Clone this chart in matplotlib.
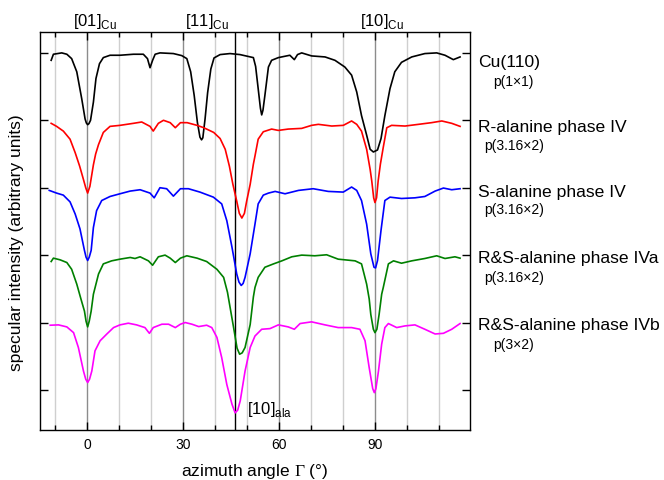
import matplotlib
matplotlib.use("Agg")
import matplotlib.pyplot as plt
from matplotlib.ticker import MultipleLocator, FixedLocator
import matplotlib.transforms as mtransforms

plt.rcParams['font.family'] = ['Liberation Sans', 'DejaVu Sans']
plt.rcParams['mathtext.fontset'] = 'custom'
plt.rcParams['mathtext.rm'] = 'Liberation Sans'
plt.rcParams['mathtext.sf'] = 'Liberation Serif'

# ---- azimuthal scans (angle in degrees, intensity relative to each trace's baseline) ----
cu_angle = [-11.3, -10.6, -8.0, -6.4, -4.9, -3.3, -1.75, -0.7, -0.3, 0.1, 0.5, 1.0, 1.9, 2.7,
            3.8, 5.0, 7.1, 10.2, 14.4, 17.5, 18.8, 19.6, 20.4, 21.2, 22.7, 26.9, 29.5, 31.1,
            32.3, 33.4, 34.4, 35.2, 35.7, 36.1, 36.8, 37.6, 38.6, 39.6, 41.5, 44.6, 47.7, 51.9,
            52.6, 53.4, 54.1, 54.5, 54.9, 55.5, 56.6, 57.6, 59.7, 63.3, 64.7, 65.7, 67.0, 70.1,
            74.3, 77.4, 80.5, 82.6, 84.2, 85.7, 87.3, 88.4, 89.4, 90.7, 91.8, 93.0, 94.6, 96.1,
            98.2, 101.4, 105.5, 109.2, 111.8, 114.4, 116.5]
cu_int = [-0.11, -0.02, 0.0, -0.02, -0.085, -0.28, -0.68, -0.98, -1.04, -1.065, -1.05, -1.0,
          -0.73, -0.38, -0.16, -0.07, -0.035, -0.035, -0.02, -0.02, -0.085, -0.22, -0.11, -0.02,
          0.0, -0.01, -0.04, -0.085, -0.28, -0.63, -1.03, -1.25, -1.29, -1.26, -0.98, -0.59,
          -0.24, -0.075, -0.025, -0.01, -0.025, -0.07, -0.2, -0.53, -0.82, -0.92, -0.85, -0.63,
          -0.21, -0.11, -0.07, -0.035, -0.1, -0.025, 0.0, -0.045, -0.06, -0.11, -0.21, -0.33,
          -0.58, -0.93, -1.22, -1.43, -1.47, -1.44, -1.27, -0.93, -0.53, -0.28, -0.14, -0.06,
          -0.01, 0.0, -0.035, -0.1, -0.06]

r_angle = [-11.3, -9.6, -7.5, -5.4, -3.8, -2.4, -1.2, -0.5, 0.1, 0.8, 1.9, 2.6, 3.5, 5.0, 7.1,
           10.2, 14.4, 17.0, 19.6, 20.6, 22.2, 23.8, 25.9, 27.5, 29.1, 31.2, 34.3, 36.4, 39.5,
           41.5, 43.1, 44.4, 45.5, 46.7, 47.5, 48.3, 49.1, 49.8, 50.9, 51.9, 52.4, 53.4, 55.0,
           57.6, 59.7, 62.8, 67.0, 70.1, 72.2, 76.4, 80.0, 82.6, 84.2, 85.7, 87.3, 88.4, 88.9,
           89.5, 89.9, 90.4, 90.9, 91.6, 92.5, 93.6, 95.1, 99.3, 103.5, 107.6, 110.8, 113.9,
           116.5]
r_int = [-0.045, -0.09, -0.16, -0.28, -0.48, -0.68, -0.88, -1.0, -1.08, -0.98, -0.66, -0.5,
         -0.36, -0.18, -0.09, -0.075, -0.045, -0.025, -0.09, -0.16, -0.045, 0.0, -0.035, -0.11,
         -0.035, -0.035, -0.075, -0.11, -0.18, -0.27, -0.43, -0.68, -0.95, -1.2, -1.38, -1.45,
         -1.38, -1.2, -0.95, -0.65, -0.53, -0.28, -0.17, -0.13, -0.15, -0.13, -0.12, -0.075,
         -0.06, -0.085, -0.075, -0.01, -0.06, -0.16, -0.43, -0.73, -0.9, -1.15, -1.22, -1.15,
         -0.9, -0.65, -0.4, -0.11, -0.075, -0.085, -0.06, -0.035, -0.01, -0.045, -0.09]

s_angle = [-11.9, -9.6, -7.5, -5.4, -3.8, -2.3, -0.9, -0.4, 0.1, 0.6, 1.2, 1.9, 2.9, 4.5, 7.1,
           10.2, 13.4, 16.5, 19.6, 20.9, 22.7, 24.8, 26.9, 29.1, 31.6, 35.2, 39.4, 42.0, 43.6,
           45.2, 46.7, 47.4, 48.1, 48.7, 49.3, 50.9, 52.4, 53.4, 55.0, 56.6, 58.7, 61.8, 66.0,
           70.6, 75.3, 80.0, 82.6, 84.2, 85.7, 87.3, 88.6, 89.6, 90.1, 90.7, 91.8, 93.0, 94.6,
           98.2, 102.4, 105.5, 108.7, 111.3, 113.9, 116.5]
s_int = [-0.04, -0.08, -0.11, -0.21, -0.39, -0.61, -0.93, -1.03, -1.08, -1.03, -0.93, -0.59,
         -0.34, -0.19, -0.13, -0.09, -0.05, -0.03, -0.08, -0.15, 0.0, -0.015, -0.125, -0.015,
         -0.015, -0.065, -0.14, -0.24, -0.49, -0.88, -1.28, -1.4, -1.45, -1.42, -1.33, -0.98,
         -0.54, -0.24, -0.11, -0.08, -0.055, -0.09, -0.04, -0.015, -0.055, -0.065, 0.01, -0.04,
         -0.19, -0.54, -0.98, -1.18, -1.19, -1.08, -0.63, -0.19, -0.14, -0.16, -0.15, -0.13,
         -0.05, -0.005, -0.03, -0.015]

rsa_angle = [-11.3, -10.6, -8.5, -6.4, -4.9, -3.3, -2.0, -0.9, -0.4, 0.1, 0.6, 1.2, 1.9, 3.5,
             5.0, 7.6, 10.2, 13.4, 14.9, 16.5, 19.1, 20.4, 22.2, 24.3, 25.9, 27.5, 29.1, 31.1,
             34.3, 37.3, 40.5, 42.6, 43.8, 45.7, 46.8, 47.6, 48.4, 49.3, 50.9, 51.9, 52.4, 53.4,
             55.5, 58.2, 60.8, 63.9, 67.0, 71.1, 74.8, 78.4, 83.7, 85.7, 87.3, 88.1, 88.6, 89.4,
             89.9, 90.5, 91.2, 92.0, 92.5, 94.1, 95.7, 98.2, 101.4, 105.5, 109.2, 111.8, 114.9,
             116.5]
rsa_int = [-0.095, -0.045, -0.07, -0.11, -0.21, -0.43, -0.65, -0.83, -0.98, -1.065, -0.98,
           -0.83, -0.58, -0.28, -0.13, -0.085, -0.06, -0.035, -0.05, -0.025, -0.085, -0.15,
           -0.025, 0.0, -0.045, -0.11, -0.045, -0.01, -0.045, -0.095, -0.21, -0.33, -0.55,
           -1.07, -1.38, -1.47, -1.45, -1.37, -1.03, -0.62, -0.48, -0.33, -0.18, -0.13, -0.085,
           -0.025, 0.0, -0.01, 0.005, -0.06, -0.085, -0.13, -0.43, -0.65, -0.88, -1.1, -1.15,
           -1.1, -0.88, -0.58, -0.48, -0.13, -0.085, -0.12, -0.085, -0.05, -0.01, -0.05, -0.025,
           -0.045]

rsb_angle = [-11.6, -9.0, -6.4, -4.3, -2.8, -1.2, -0.5, 0.1, 0.7, 1.4, 2.4, 4.0, 6.1, 8.2,
             10.2, 12.8, 15.4, 18.0, 19.4, 20.6, 23.3, 25.4, 27.5, 29.1, 30.6, 32.7, 34.8, 37.3,
             38.9, 40.5, 42.0, 43.6, 45.2, 46.2, 47.0, 47.8, 49.3, 50.9, 52.4, 54.5, 57.1, 59.7,
             62.8, 64.7, 66.5, 70.1, 74.3, 78.4, 82.6, 85.2, 86.8, 88.1, 89.2, 89.7, 90.2, 91.0,
             92.0, 93.0, 94.1, 96.7, 99.3, 102.4, 105.5, 108.7, 111.3, 113.9, 116.5]
rsb_int = [-0.04, -0.035, -0.065, -0.15, -0.37, -0.72, -0.84, -0.89, -0.84, -0.72, -0.42,
           -0.27, -0.17, -0.075, -0.035, -0.01, -0.035, -0.075, -0.16, -0.075, -0.025, -0.025,
           -0.075, -0.025, 0.0, -0.025, -0.06, -0.04, -0.075, -0.22, -0.52, -0.92, -1.21, -1.34,
           -1.3, -1.16, -0.72, -0.37, -0.2, -0.1, -0.09, -0.035, -0.065, -0.1, -0.015, 0.01,
           -0.035, -0.075, -0.075, -0.1, -0.27, -0.67, -0.98, -1.04, -0.98, -0.72, -0.32,
           -0.075, -0.015, -0.075, -0.05, -0.035, -0.1, -0.17, -0.16, -0.1, -0.015]

traces = [
    (cu_angle, cu_int, 'black'),
    (r_angle, r_int, '#ff0000'),
    (s_angle, s_int, '#0000ff'),
    (rsa_angle, rsa_int, '#008000'),
    (rsb_angle, rsb_int, '#ff00ff'),
]
offsets = [5, 4, 3, 2, 1]

names = ['Cu(110)', 'R-alanine phase IV', 'S-alanine phase IV',
         'R&S-alanine phase IVa', 'R&S-alanine phase IVb']
cells = ['p(1\u00d71)', 'p(3.16\u00d72)', 'p(3.16\u00d72)', 'p(3.16\u00d72)', 'p(3\u00d72)']

direction_labels = [r'[01]$_{\mathrm{Cu}}$', r'[11]$_{\mathrm{Cu}}$', r'[10]$_{\mathrm{Cu}}$']
direction_x = [-4.4, 30.5, 85.2]
ala_direction = 46.3

fig = plt.figure(figsize=(6.64, 4.81), dpi=100)
ax = fig.add_axes([0.0602, 0.104, 0.6476, 0.8274])

for (ang, inten, col), off in zip(traces, offsets):
    ax.plot(ang, [v + off for v in inten], color=col, lw=1.2, zorder=3,
            solid_joinstyle='round')

ax.axvline(ala_direction, color='black', lw=1.0, zorder=2)

ax.set_xlim(-14.8, 119.6)
ax.set_ylim(-0.594, 5.31)
ax.xaxis.set_major_locator(FixedLocator([0, 30, 60, 90]))
ax.xaxis.set_minor_locator(MultipleLocator(10))
ax.yaxis.set_major_locator(FixedLocator([0, 1, 2, 3, 4, 5]))
ax.set_yticklabels([])
ax.tick_params(axis='both', which='major', direction='in', length=6, width=1,
               top=True, right=True, labelsize=10, pad=5)
ax.tick_params(axis='x', which='minor', direction='in', length=3.5, width=1,
               top=True, bottom=True)
ax.set_axisbelow(True)
ax.grid(True, axis='x', which='minor', color='#cfcfcf', lw=1.0)
ax.grid(True, axis='x', which='major', color='#8c8c8c', lw=1.0)
for sp in ax.spines.values():
    sp.set_linewidth(1.0)

ax.set_xlabel('azimuth angle $\\mathsf{\\Gamma}$ (\u00b0)', fontsize=12.5, labelpad=7)
ax.set_ylabel('specular intensity (arbitrary units)', fontsize=12.5)
ax.yaxis.set_label_coords(-0.036, 0.472)

for lab, xd in zip(direction_labels, direction_x):
    ax.text(xd, 5.42, lab, fontsize=12, ha='left', va='baseline', clip_on=False)
ax.text(49.8, -0.34, r'[10]$_{\mathrm{ala}}$', fontsize=12, ha='left', va='baseline')

trans = mtransforms.blended_transform_factory(ax.transAxes, ax.transData)
name_dy = [-0.13, -0.09, -0.05, -0.04, -0.03]
cell_dy = [-0.41, -0.36, -0.32, -0.32, -0.32]
cell_x = [1.0535, 1.0326, 1.0326, 1.0326, 1.0535]
for nm, cl, off, ndy, cdy, cx in zip(names, cells, offsets, name_dy, cell_dy, cell_x):
    ax.text(1.0186, off + ndy, nm, transform=trans, fontsize=12.6, ha='left',
            va='center', clip_on=False)
    ax.text(cx, off + cdy, cl, transform=trans, fontsize=10, ha='left',
            va='center', clip_on=False)

fig.savefig('out.png', dpi=100)
